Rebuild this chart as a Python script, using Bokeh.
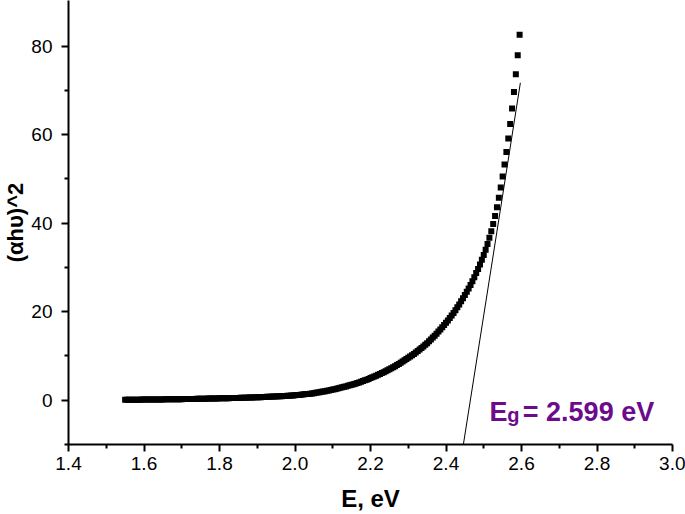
from bokeh.plotting import figure
from bokeh.models import FixedTicker, Range1d, NumeralTickFormatter
from bokeh.core.properties import value
from bokeh.embed import file_html
from bokeh.resources import INLINE

# photon energy, eV
energy = [
    1.550, 1.555, 1.560, 1.565, 1.570, 1.575, 1.580, 1.585, 1.590, 1.595,
    1.600, 1.605, 1.610, 1.615, 1.620, 1.625, 1.630, 1.635, 1.640, 1.645,
    1.650, 1.655, 1.660, 1.665, 1.670, 1.675, 1.680, 1.685, 1.690, 1.695,
    1.700, 1.705, 1.710, 1.715, 1.720, 1.725, 1.730, 1.735, 1.740, 1.745,
    1.750, 1.755, 1.760, 1.765, 1.770, 1.775, 1.780, 1.785, 1.790, 1.795,
    1.800, 1.805, 1.810, 1.815, 1.820, 1.825, 1.830, 1.835, 1.840, 1.845,
    1.850, 1.855, 1.860, 1.865, 1.870, 1.875, 1.880, 1.885, 1.890, 1.895,
    1.900, 1.905, 1.910, 1.915, 1.920, 1.925, 1.930, 1.935, 1.940, 1.945,
    1.950, 1.955, 1.960, 1.965, 1.970, 1.975, 1.980, 1.985, 1.990, 1.995,
    2.000, 2.005, 2.010, 2.015, 2.020, 2.025, 2.030, 2.035, 2.040, 2.045,
    2.050, 2.055, 2.060, 2.065, 2.070, 2.075, 2.080, 2.085, 2.090, 2.095,
    2.100, 2.105, 2.110, 2.115, 2.120, 2.125, 2.130, 2.135, 2.140, 2.145,
    2.150, 2.155, 2.160, 2.165, 2.170, 2.175, 2.180, 2.185, 2.190, 2.195,
    2.200, 2.205, 2.210, 2.215, 2.220, 2.225, 2.230, 2.235, 2.240, 2.245,
    2.250, 2.255, 2.260, 2.265, 2.270, 2.275, 2.280, 2.285, 2.290, 2.295,
    2.300, 2.305, 2.310, 2.315, 2.320, 2.325, 2.330, 2.335, 2.340, 2.345,
    2.350, 2.355, 2.360, 2.365, 2.370, 2.375, 2.380, 2.385, 2.390, 2.395,
    2.400, 2.405, 2.410, 2.415, 2.420, 2.425, 2.430, 2.435, 2.440, 2.445,
    2.450, 2.455, 2.460, 2.465, 2.470, 2.475, 2.480, 2.485, 2.490, 2.495,
    2.500, 2.505, 2.510, 2.515, 2.520, 2.525, 2.530, 2.535, 2.540, 2.545,
    2.550, 2.555, 2.560, 2.565, 2.570, 2.575, 2.580, 2.585, 2.590, 2.595,
]

# (alpha h nu)^2
ahv2 = [
    0.10, 0.10, 0.11, 0.11, 0.12, 0.12, 0.12, 0.13, 0.13, 0.14,
    0.14, 0.15, 0.15, 0.16, 0.16, 0.17, 0.17, 0.18, 0.18, 0.19,
    0.19, 0.20, 0.20, 0.21, 0.22, 0.22, 0.23, 0.23, 0.24, 0.24,
    0.25, 0.26, 0.27, 0.27, 0.28, 0.29, 0.30, 0.30, 0.31, 0.32,
    0.33, 0.34, 0.35, 0.36, 0.37, 0.37, 0.38, 0.39, 0.40, 0.41,
    0.42, 0.43, 0.44, 0.45, 0.46, 0.47, 0.48, 0.49, 0.50, 0.52,
    0.53, 0.54, 0.55, 0.57, 0.58, 0.60, 0.61, 0.62, 0.64, 0.65,
    0.67, 0.69, 0.70, 0.72, 0.74, 0.76, 0.78, 0.80, 0.82, 0.84,
    0.86, 0.88, 0.90, 0.92, 0.95, 0.97, 1.00, 1.03, 1.06, 1.09,
    1.12, 1.16, 1.20, 1.24, 1.29, 1.33, 1.38, 1.43, 1.49, 1.54,
    1.60, 1.67, 1.74, 1.81, 1.89, 1.97, 2.05, 2.13, 2.22, 2.31,
    2.40, 2.49, 2.59, 2.69, 2.80, 2.91, 3.02, 3.13, 3.25, 3.37,
    3.50, 3.62, 3.75, 3.89, 4.03, 4.18, 4.33, 4.49, 4.65, 4.82,
    5.00, 5.17, 5.35, 5.54, 5.73, 5.93, 6.13, 6.34, 6.55, 6.77,
    7.00, 7.22, 7.45, 7.69, 7.94, 8.20, 8.46, 8.73, 9.01, 9.30,
    9.60, 9.87, 10.16, 10.46, 10.77, 11.10, 11.44, 11.79, 12.15, 12.52,
    12.90, 13.30, 13.72, 14.15, 14.59, 15.04, 15.50, 15.97, 16.46, 16.97,
    17.50, 18.02, 18.56, 19.13, 19.73, 20.35, 20.99, 21.65, 22.34, 23.05,
    23.80, 24.50, 25.25, 26.05, 26.90, 27.80, 28.72, 29.67, 30.67, 31.72,
    32.80, 34.00, 35.30, 36.70, 38.20, 39.80, 41.60, 43.60, 45.75, 48.05,
    50.55, 53.25, 56.10, 59.15, 62.40, 65.90, 69.65, 73.65, 77.95, 82.55,
]

# tangent (linear fit) line
fit_energy = [2.446, 2.597]
fit_ahv2 = [-10.0, 71.7]

x_major_ticks = [1.4, 1.6, 1.8, 2.0, 2.2, 2.4, 2.6, 2.8, 3.0]
x_minor_ticks = [1.5, 1.7, 1.9, 2.1, 2.3, 2.5, 2.7, 2.9]
y_major_ticks = [0, 20, 40, 60, 80]
y_minor_ticks = [-10, 10, 30, 50, 70]

x_title = "E, eV"
y_title = "(\u03b1h\u03c5)^2"
eg_symbol = "E"
eg_sub = "g"
eg_text = "= 2.599 eV"

PURPLE = "#6C0B8B"
FONT = "Liberation Sans"

p = figure(width=685, height=514,
           x_range=Range1d(1.4, 3.0), y_range=Range1d(-10, 90.3),
           output_backend="svg", toolbar_location=None,
           min_border_left=68, min_border_right=13,
           min_border_top=0, min_border_bottom=70)
p.outline_line_color = None
p.xgrid.visible = False
p.ygrid.visible = False
p.background_fill_color = "white"
p.border_fill_color = "white"

p.xaxis.ticker = FixedTicker(ticks=x_major_ticks, minor_ticks=x_minor_ticks)
p.yaxis.ticker = FixedTicker(ticks=y_major_ticks, minor_ticks=y_minor_ticks)
p.xaxis.formatter = NumeralTickFormatter(format="0.0")
p.xaxis.axis_label = x_title
p.yaxis.axis_label = y_title

for ax in (p.xaxis[0], p.yaxis[0]):
    ax.axis_line_width = 2
    ax.axis_line_color = "black"
    ax.major_tick_line_width = 2
    ax.minor_tick_line_width = 2
    ax.major_tick_line_color = "black"
    ax.minor_tick_line_color = "black"
    ax.major_tick_out = 7
    ax.major_tick_in = 0
    ax.minor_tick_out = 4
    ax.minor_tick_in = 0
    ax.major_label_text_font = FONT
    ax.major_label_text_font_size = "19px"
    ax.major_label_text_color = "black"
    ax.axis_label_text_font = FONT
    ax.axis_label_text_font_style = "bold"
    ax.axis_label_text_color = "black"

p.xaxis[0].major_label_standoff = 5
p.xaxis[0].axis_label_standoff = 12
p.xaxis[0].axis_label_text_font_size = "24px"
p.yaxis[0].major_label_standoff = 9
p.yaxis[0].axis_label_standoff = 0
p.yaxis[0].axis_label_text_font_size = "22px"
p.yaxis[0].axis_label_text_baseline = "bottom"

p.line(fit_energy, fit_ahv2, line_color="black", line_width=1)
p.scatter(energy, ahv2, marker="square", size=6,
          fill_color="black", line_color="black", line_width=0)

p.text(x=[2.515], y=[-2.64], text=[eg_symbol], text_font=value(FONT),
       text_font_style="bold", text_font_size="27px", text_color=PURPLE,
       text_baseline="alphabetic", text_align="left")
p.text(x=[2.5625], y=[-3.4], text=[eg_sub], text_font=value(FONT),
       text_font_style="bold", text_font_size="20px", text_color=PURPLE,
       text_baseline="alphabetic", text_align="left")
p.text(x=[2.6035], y=[-2.64], text=[eg_text], text_font=value(FONT),
       text_font_style="bold", text_font_size="27px", text_color=PURPLE,
       text_baseline="alphabetic", text_align="left")

open("out.html", "w").write(file_html(p, INLINE))
